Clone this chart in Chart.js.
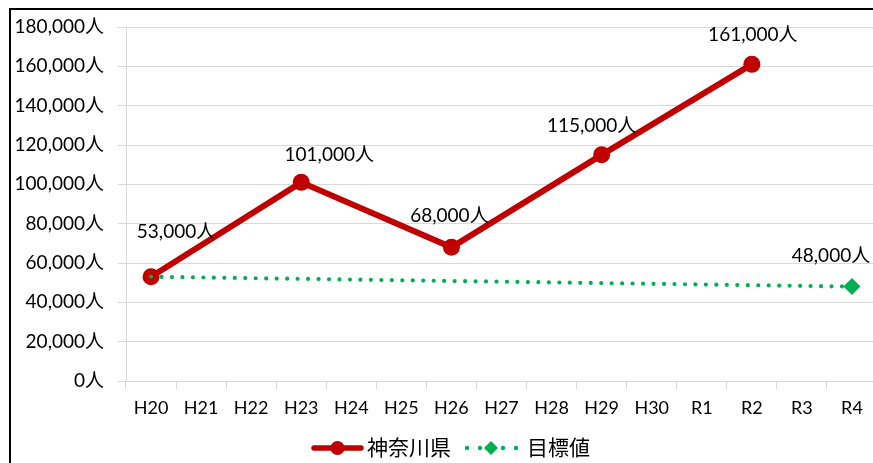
<!DOCTYPE html>
<html>
<head>
<meta charset="utf-8">
<script src="https://cdn.jsdelivr.net/npm/chart.js@4"></script>
<style>
  html, body { margin: 0; padding: 0; background: #fff; overflow: hidden; }
  #wrap { position: relative; width: 873px; height: 463px; overflow: hidden; }
  #frame { position: absolute; left: 9px; top: 8px; width: 900px; height: 500px;
           border-left: 2px solid #000; border-top: 2px solid #000; box-sizing: border-box; }
  canvas { position: absolute; left: 0; top: 0; }
</style>
</head>
<body>
<div id="wrap">
  <canvas id="c" width="890" height="463" style="width:890px;height:463px"></canvas>
  <div id="frame"></div>
</div>
<script>
const categories = ['H20','H21','H22','H23','H24','H25','H26','H27','H28','H29','H30','R1','R2','R3','R4'];
const kanagawa = [53000,null,null,101000,null,null,68000,null,null,115000,null,null,161000,null,null];
const target   = [53000,null,null,null,null,null,null,null,null,null,null,null,null,null,48000];
const yTicksMax = 180000;
const yTicksStep = 20000;
const seriesNames = ['神奈川県', '目標値'];

// label placement (pixel nudges from each point), null = no label
const redLabelPos   = [[25,-45],null,null,[28,-27],null,null,[-2,-31],null,null,[-10,-29],null,null,[1,-29],null,null];
const greenLabelPos = [null,null,null,null,null,null,null,null,null,null,null,null,null,null,[-21,-31]];

const FONT = 'Lato, "Noto Sans CJK JP", sans-serif';
const RED = '#C00000';
const GREEN = '#00B050';
const fmt = v => v.toLocaleString('en-US') + '人';

const valueLabels = {
  id: 'valueLabels',
  afterDatasetsDraw(chart) {
    const ctx = chart.ctx;
    ctx.save();
    ctx.font = '19px ' + FONT;
    ctx.fillStyle = '#000';
    ctx.textAlign = 'center';
    ctx.textBaseline = 'middle';
    chart.data.datasets.forEach((ds, i) => {
      const meta = chart.getDatasetMeta(i);
      ds.labelPos.forEach((off, j) => {
        if (!off || ds.data[j] == null) return;
        const pt = meta.data[j];
        ctx.fillText(fmt(ds.data[j]), pt.x + off[0], pt.y + off[1]);
      });
    });
    ctx.restore();
  }
};

const bottomLegend = {
  id: 'bottomLegend',
  afterDraw(chart) {
    const ctx = chart.ctx;
    ctx.save();
    ctx.font = '21px ' + FONT;
    ctx.textBaseline = 'middle';
    ctx.fillStyle = '#000';
    const y = 448, lineLen = 51, gap = 4, itemGap = 15;
    const w0 = ctx.measureText(seriesNames[0]).width;
    const w1 = ctx.measureText(seriesNames[1]).width;
    const total = lineLen + gap + w0 + itemGap + lineLen + gap + w1;
    let x = 448 - total / 2;
    // red item
    ctx.strokeStyle = RED; ctx.lineWidth = 5.5; ctx.lineCap = 'round';
    ctx.beginPath(); ctx.moveTo(x + 2, y); ctx.lineTo(x + lineLen - 2, y); ctx.stroke();
    ctx.fillStyle = RED;
    ctx.beginPath(); ctx.arc(x + lineLen / 2, y, 7, 0, Math.PI * 2); ctx.fill();
    ctx.fillStyle = '#000';
    ctx.fillText(seriesNames[0], x + lineLen + gap, y);
    x += lineLen + gap + w0 + itemGap;
    // green item
    ctx.fillStyle = GREEN;
    [1, 14, 37, 50].forEach(d => { ctx.beginPath(); ctx.arc(x + d, y, 2.2, 0, Math.PI * 2); ctx.fill(); });
    const cx = x + lineLen / 2 - 0.5;
    ctx.beginPath(); ctx.moveTo(cx, y - 7); ctx.lineTo(cx + 7, y); ctx.lineTo(cx, y + 7); ctx.lineTo(cx - 7, y); ctx.closePath(); ctx.fill();
    ctx.fillStyle = '#000';
    ctx.fillText(seriesNames[1], x + lineLen + gap + 6, y);
    ctx.restore();
  }
};

new Chart(document.getElementById('c'), {
  type: 'line',
  data: {
    labels: categories,
    datasets: [
      {
        label: seriesNames[0],
        data: kanagawa,
        labelPos: redLabelPos,
        borderColor: RED,
        backgroundColor: RED,
        borderWidth: 6,
        pointRadius: 8.5,
        pointHoverRadius: 8.5,
        pointBorderWidth: 0,
        pointBackgroundColor: RED,
        spanGaps: true,
        tension: 0,
        order: 2
      },
      {
        label: seriesNames[1],
        data: target,
        labelPos: greenLabelPos,
        borderColor: GREEN,
        backgroundColor: GREEN,
        borderWidth: 4.2,
        borderDash: [0, 10.47],
        borderCapStyle: 'round',
        pointStyle: 'rectRot',
        pointRadius: target.map((v, i) => i === target.length - 1 ? 8.5 : 0),
        pointBorderWidth: 0,
        pointBackgroundColor: GREEN,
        spanGaps: true,
        tension: 0,
        order: 1
      }
    ]
  },
  options: {
    responsive: false,
    animation: false,
    layout: { padding: { top: 27, right: 13, left: 0, bottom: 0 } },
    plugins: {
      legend: { display: false },
      tooltip: { enabled: false }
    },
    scales: {
      x: {
        offset: true,
        grid: { offset: true, drawOnChartArea: false, color: '#d9d9d9', tickLength: 8 },
        border: { color: '#d9d9d9' },
        ticks: { color: '#000', font: { family: FONT, size: 18 }, padding: 8, maxRotation: 0, autoSkip: false },
        afterFit(scale) { scale.height = 82; }
      },
      y: {
        min: 0,
        max: yTicksMax,
        ticks: {
          stepSize: yTicksStep,
          color: '#000',
          font: { family: FONT, size: 19 },
          padding: 14,
          callback: v => fmt(v)
        },
        grid: { color: '#d9d9d9', tickLength: 8 },
        border: { color: '#d9d9d9' },
        afterFit(scale) { scale.width = 126; }
      }
    }
  },
  plugins: [valueLabels, bottomLegend]
});
</script>
</body>
</html>
